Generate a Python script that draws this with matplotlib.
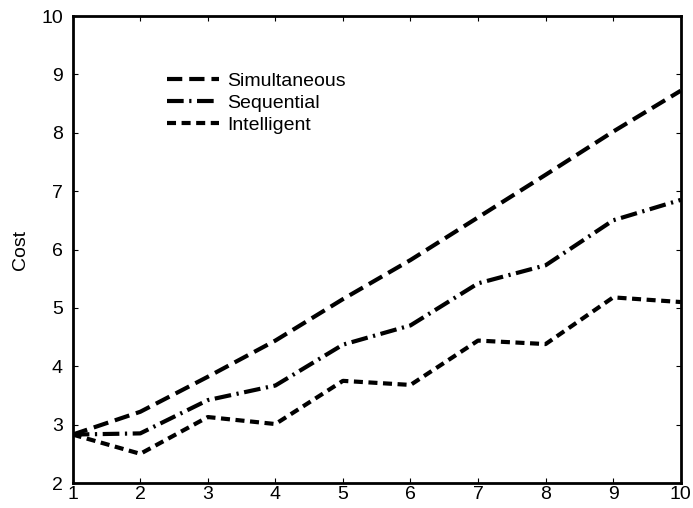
import matplotlib
matplotlib.use("Agg")
import matplotlib.pyplot as plt

plt.rcParams['font.family'] = ['Liberation Sans', 'DejaVu Sans']
plt.rcParams['lines.scale_dashes'] = False

steps = [1, 2, 3, 4, 5, 6, 7, 8, 9, 10]
simultaneous = [2.83, 3.22, 3.82, 4.44, 5.15, 5.82, 6.55, 7.28, 8.02, 8.72]
sequential = [2.83, 2.85, 3.42, 3.67, 4.37, 4.70, 5.42, 5.73, 6.50, 6.85]
intelligent = [2.83, 2.50, 3.13, 3.01, 3.75, 3.68, 4.44, 4.38, 5.18, 5.10]

fig = plt.figure(figsize=(6.93, 5.08), dpi=100)
ax = fig.add_axes([0.1049, 0.0492, 0.8774, 0.9193])

lw = 3.0
ax.plot(steps, simultaneous, color='black', lw=lw, dashes=(11, 5),
        dash_capstyle='butt', label='Simultaneous')
ax.plot(steps, sequential, color='black', lw=lw, dashes=(12, 4, 1.6, 4),
        dash_capstyle='butt', label='Sequential')
ax.plot(steps, intelligent, color='black', lw=lw, dashes=(6.5, 4),
        dash_capstyle='butt', label='Intelligent')

ax.set_xlim(1, 10)
ax.set_ylim(2, 10)
ax.set_xticks(steps)
ax.set_yticks(range(2, 11))
ax.tick_params(direction='in', length=3.6, width=0.8, top=True, right=True,
               labelsize=14)
ax.tick_params(axis='y', pad=7)
ax.tick_params(axis='x', pad=2)
for sp in ax.spines.values():
    sp.set_linewidth(2.0)

ax.set_ylabel('Cost', fontsize=14, labelpad=9)

ax.legend(loc='upper left', bbox_to_anchor=(0.155, 0.880), frameon=False,
          fontsize=14, handlelength=2.7, handletextpad=0.4,
          labelspacing=0.23, borderpad=0, borderaxespad=0)

fig.savefig('out.png', dpi=100)
